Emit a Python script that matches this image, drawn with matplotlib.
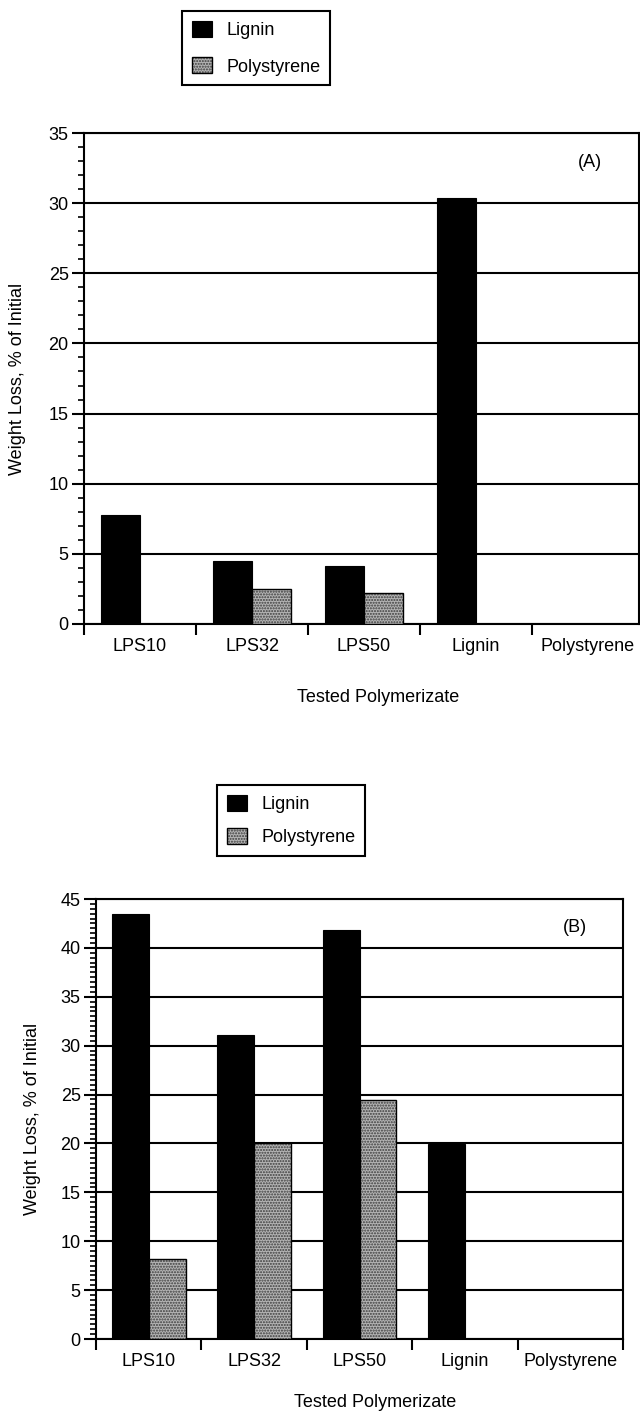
import matplotlib
matplotlib.use("Agg")
import matplotlib.pyplot as plt
import numpy as np
from matplotlib.ticker import MultipleLocator, FixedLocator
from matplotlib.legend_handler import HandlerTuple

plt.rcParams['font.family'] = ['Liberation Sans', 'DejaVu Sans']
plt.rcParams['hatch.color'] = '#3c3c3c'
plt.rcParams['hatch.linewidth'] = 1.0

categories = ["LPS10", "LPS32", "LPS50", "Lignin", "Polystyrene"]
series_names = ["Lignin", "Polystyrene"]
lignin_A = [7.8, 4.5, 4.1, 30.4, 0]
polystyrene_A = [0, 2.5, 2.2, 0, 0]
lignin_B = [43.5, 31.1, 41.8, 19.9, 0]
polystyrene_B = [8.2, 20.0, 24.4, 0, 0]
ylabel = "Weight Loss, % of Initial"
xlabel = "Tested Polymerizate"

W, H = 640, 1411
fig = plt.figure(figsize=(W / 100, H / 100), dpi=100)

FS = 13
BW = 0.35


def panel(rect, lig, ps, ymax, ystep, yminor, xright, tag, tagpos, ylab_x, xlab_y,
          legend_anchor, legend_spacing):
    l, t, r, b = rect
    ax = fig.add_axes([l / W, 1 - b / H, (r - l) / W, (b - t) / H])
    x = np.arange(len(categories))
    ax.set_axisbelow(True)
    ax.yaxis.grid(True, color='black', lw=1.5)
    lb = ax.bar(x - BW / 2, lig, BW, color='black', edgecolor='black', lw=0.8,
                zorder=3, label=series_names[0])
    pf = ax.bar(x + BW / 2, ps, BW, color='#b4b4b4', hatch='......', lw=0, zorder=3)
    pe = ax.bar(x + BW / 2, ps, BW, fill=False, edgecolor='black', lw=1.0, zorder=4)
    ax.set_xlim(-0.5, xright)
    ax.set_ylim(0, ymax)
    ax.yaxis.set_major_locator(MultipleLocator(ystep))
    ax.yaxis.set_minor_locator(MultipleLocator(yminor))
    ax.set_xticks(x)
    ax.set_xticklabels(categories, fontsize=FS)
    ax.xaxis.set_minor_locator(FixedLocator(np.arange(-0.5, len(categories), 1.0)))
    ax.tick_params(axis='x', which='major', length=0, pad=10)
    ax.tick_params(axis='x', which='minor', length=8, width=1.5, direction='out')
    ax.tick_params(axis='y', which='major', length=9, width=1.5, labelsize=FS, pad=2)
    ax.tick_params(axis='y', which='minor', length=4, width=1.2)
    for s in ax.spines.values():
        s.set_linewidth(1.5)
    ax.set_ylabel(ylabel, fontsize=FS)
    ax.yaxis.set_label_coords(ylab_x, 0.5)
    ax.set_xlabel(xlabel, fontsize=FS)
    ax.xaxis.set_label_coords(0.53, xlab_y)
    ax.text(tagpos[0], tagpos[1], tag, transform=ax.transAxes, fontsize=FS,
            ha='center', va='center')
    leg = fig.legend([lb, (pf, pe)], series_names, loc='upper left',
                     bbox_to_anchor=legend_anchor, bbox_transform=fig.transFigure,
                     fontsize=FS, frameon=True, fancybox=False, edgecolor='black',
                     framealpha=1, borderaxespad=0, handlelength=1.1, handleheight=1.0,
                     handletextpad=0.8, labelspacing=legend_spacing, borderpad=0.55,
                     handler_map={tuple: HandlerTuple(ndivide=1, pad=0)})
    leg.get_frame().set_linewidth(1.5)
    return ax


# Panel A: left, top, right, bottom in pixels
panel((84, 133, 639, 624), lignin_A, polystyrene_A, 35, 5, 1, 4.455, "(A)",
      (0.912, 0.939), -0.105, -0.132, (182 / W, 1 - 11 / H), 1.0)
# Panel B
panel((96, 899, 623, 1339), lignin_B, polystyrene_B, 45, 5, 0.5, 4.5, "(B)",
      (0.909, 0.936), -0.104, -0.125, (217 / W, 1 - 785 / H), 0.8)

fig.savefig("out.png", dpi=100)
